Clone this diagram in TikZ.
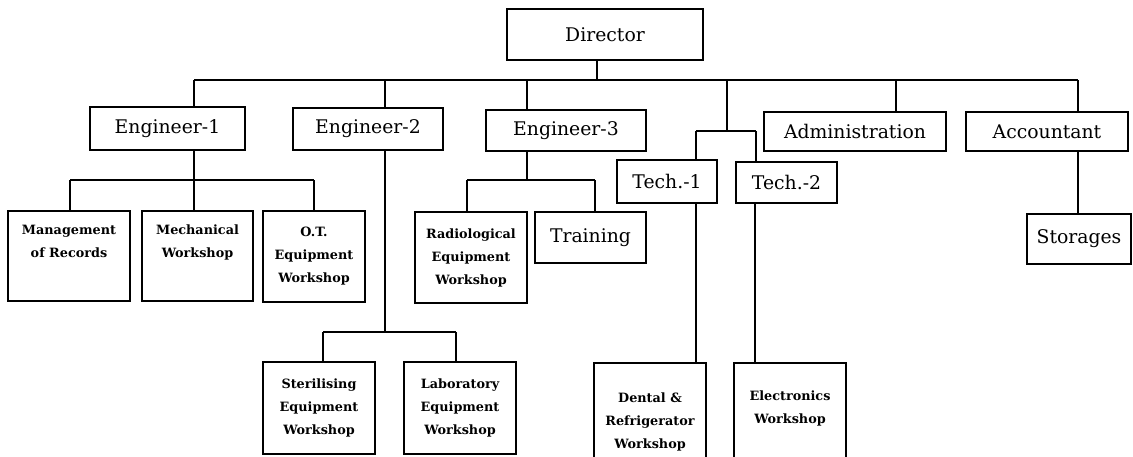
\documentclass[tikz,border=0pt]{standalone}
\usepackage{fontspec}
\setmainfont{DejaVu Serif}
\usepackage{tikz}
\usetikzlibrary{shapes}

\begin{document}
\begin{tikzpicture}[x=1pt,y=-1pt,line width=1.6pt,
    post/.style={draw,rectangle,inner sep=0pt,font=\fontsize{18.8}{20}\selectfont},
    unit/.style={draw,rectangle,inner sep=0pt,align=center,
        font=\bfseries\fontsize{12.8}{23}\selectfont}]
\useasboundingbox (0,0) rectangle (1133,456);
\clip (0,0) rectangle (1133,456);

% top row
\node [post,minimum width=196pt,minimum height=51pt] (dir) at (605,34.5) {Director};
\node [post,minimum width=155pt,minimum height=43pt] (e1) at (167.5,128.5) {Engineer-1};
\node [post,minimum width=150pt,minimum height=42pt] (e2) at (368,129) {Engineer-2};
\node [post,minimum width=160pt,minimum height=41pt] (e3) at (566,130.5) {Engineer-3};
\node [post,minimum width=100pt,minimum height=43pt] (t1) at (667,181.5) {Tech.-1};
\node [post,minimum width=101pt,minimum height=41pt] (t2) at (786.5,182.5) {Tech.-2};
\node [post,minimum width=182pt,minimum height=39pt] (adm) at (855,131.5) {Administration};
\node [post,minimum width=162pt,minimum height=39pt] (acc) at (1047,131.5) {Accountant};

% workshops
\node [unit,minimum width=122pt,minimum height=90pt] (rec) at (69,256) {Management\\of Records\\\strut};
\node [unit,minimum width=111pt,minimum height=90pt] (mech) at (197.5,256) {Mechanical\\Workshop\\\strut};
\node [unit,minimum width=102pt,minimum height=91pt] (ot) at (314,256.5) {O.T.\\Equipment\\Workshop};
\node [unit,minimum width=112pt,minimum height=91pt] (rad) at (471,257.5) {Radiological\\Equipment\\Workshop};
\node [post,minimum width=111pt,minimum height=51pt] (trn) at (590.5,237.5) {Training};
\node [post,minimum width=104pt,minimum height=50pt] (sto) at (1079,239) {Storages};
\node [unit,minimum width=112pt,minimum height=92pt] (ster) at (319,408) {Sterilising\\Equipment\\Workshop};
\node [unit,minimum width=112pt,minimum height=92pt] (lab) at (460,408) {Laboratory\\Equipment\\Workshop};
\node [unit,minimum width=112pt,minimum height=118pt] (den) at (650,422) {Dental \&\\Refrigerator\\Workshop};
\node [unit,minimum width=112pt,minimum height=118pt] (ele) at (790,422) {Electronics\\Workshop\\\strut};

% main bus under the director
\coordinate (d0) at (597,80);
\coordinate (b1) at (194,80);
\coordinate (b2) at (385,80);
\coordinate (b3) at (527,80);
\coordinate (b4) at (727,80);
\coordinate (b5) at (896,80);
\coordinate (b6) at (1078,80);
\draw (dir.south -| d0) -- (d0);
\draw (b1) -- (b6);
\draw (b1) -- (b1 |- e1.north);
\draw (b2) -- (b2 |- e2.north);
\draw (b3) -- (b3 |- e3.north);
\draw (b5) -- (b5 |- adm.north);
\draw (b6) -- (b6 |- acc.north);

% technicians
\coordinate (t0) at (727,131);
\coordinate (tl) at (696,131);
\coordinate (tr) at (756,131);
\draw (b4) -- (t0);
\draw (tl) -- (tr);
\draw (tl) -- (tl |- t1.north);
\draw (tr) -- (tr |- t2.north);
\draw (t1.south -| tl) -- (tl |- den.north);
\draw (t2.south -| 755,0) -- (ele.north -| 755,0);

% engineer-1
\coordinate (p1) at (194,180);
\coordinate (p0) at (70,180);
\coordinate (p2) at (314,180);
\draw (e1.south -| p1) -- (p1);
\draw (p0) -- (p2);
\draw (p0) -- (p0 |- rec.north);
\draw (p1) -- (p1 |- mech.north);
\draw (p2) -- (p2 |- ot.north);

% engineer-2
\coordinate (q1) at (385,332);
\coordinate (q0) at (323,332);
\coordinate (q2) at (456,332);
\draw (e2.south -| q1) -- (q1);
\draw (q0) -- (q2);
\draw (q0) -- (q0 |- ster.north);
\draw (q2) -- (q2 |- lab.north);

% engineer-3
\coordinate (r1) at (527,180);
\coordinate (r0) at (467,180);
\coordinate (r2) at (595,180);
\draw (e3.south -| r1) -- (r1);
\draw (r0) -- (r2);
\draw (r0) -- (r0 |- rad.north);
\draw (r2) -- (r2 |- trn.north);

% accountant
\draw (acc.south -| b6) -- (b6 |- sto.north);
\end{tikzpicture}
\end{document}
